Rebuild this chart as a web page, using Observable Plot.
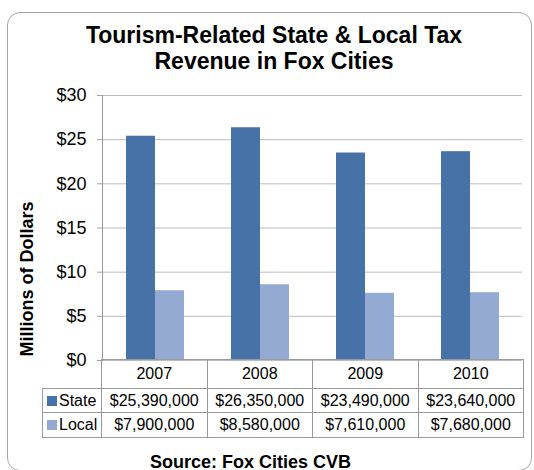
<!DOCTYPE html>
<html>
<head>
<meta charset="utf-8">
<script src="https://cdn.jsdelivr.net/npm/d3@7"></script>
<script src="https://cdn.jsdelivr.net/npm/@observablehq/plot@0.6"></script>
<style>
  html, body { margin: 0; padding: 0; background: #fff; }
  body { width: 534px; height: 470px; overflow: hidden; position: relative; font-family: "Liberation Sans", Arial, sans-serif; }
  #frame { position: absolute; left: 7px; top: 12px; width: 525px; height: 459px; box-sizing: border-box; border: 1px solid #a6a6a6; border-radius: 13px; }
  #title { position: absolute; left: 0; top: 22.9px; width: 548px; text-align: center; font-weight: bold; font-size: 23px; line-height: 25.8px; color: #000; }
  #chart { position: absolute; left: 0; top: 80px; }
  #table { position: absolute; left: 42px; top: 359px; border-collapse: collapse; font-size: 16px; color: #000; }
  #table td { border: 1px solid #9a9a9a; padding: 0; text-align: center; box-sizing: border-box; }
  #table td.blank { border: none; }
  #table td.lab { text-align: left; padding-left: 4px; white-space: nowrap; }
  #table .sw { display: inline-block; width: 10px; height: 10px; margin-right: 2px; vertical-align: 0px; }
  #source { position: absolute; left: 0; top: 451.5px; width: 501px; text-align: center; font-weight: bold; font-size: 18px; line-height: 20px; color: #000; }
</style>
</head>
<body>
<div id="frame"></div>
<div id="title">Tourism-Related State &amp; Local Tax<br>Revenue in Fox Cities</div>
<div id="chart"></div>
<table id="table"></table>
<div id="source">Source: Fox Cities CVB</div>
<script>
// ---- data ----
const years = ["2007", "2008", "2009", "2010"];
const series = ["State", "Local"];
const stateValues = [25390000, 26350000, 23490000, 23640000];
const localValues = [7900000, 8580000, 7610000, 7680000];
const seriesColors = ["#4672a8", "#95aad3"];
const yTicks = [0, 5, 10, 15, 20, 25, 30];
const yLabel = "Millions of Dollars";

const rows = [];
years.forEach((y, i) => {
  rows.push({year: y, series: "State", value: stateValues[i] / 1e6});
  rows.push({year: y, series: "Local", value: localValues[i] / 1e6});
});

const chart = Plot.plot({
  width: 534,
  height: 290,
  marginTop: 15,
  marginBottom: 10,
  marginLeft: 100,
  marginRight: 11,
  style: {fontFamily: "'Liberation Sans', Arial, sans-serif", fontSize: "18px", color: "#000", background: "transparent", overflow: "visible"},
  fx: {domain: years, padding: 0, axis: null, label: null},
  x: {domain: series, paddingInner: 0, paddingOuter: 0.758, axis: null, label: null},
  y: {domain: [0, 30], axis: null},
  color: {domain: series, range: seriesColors},
  marks: [
    Plot.gridY(yTicks, {stroke: "#bcbcbc", strokeOpacity: 1}),
    Plot.barY(rows, {fx: "year", x: "series", y: "value", fill: "series", insetLeft: 0, insetRight: 0}),
    Plot.axisY(yTicks, {tickSize: 5, tickPadding: 11, tickFormat: d => "$" + d, stroke: "#a0a0a0", fill: "#000", fontSize: 18, label: null}),
    Plot.frame({anchor: "left", facetAnchor: "left", stroke: "#9a9a9a"}),
    Plot.text([{year: years[0], t: yLabel}], {fx: "year", text: "t", frameAnchor: "bottom-left", rotate: -90, textAnchor: "start", dx: -70, dy: -4, fontWeight: "bold", fontSize: 18, fill: "#000"})
  ]
});
document.getElementById("chart").appendChild(chart);

// ---- data table ----
const table = document.getElementById("table");
const colW = 105.5;
let html = '<tr style="height:29px"><td class="blank" style="width:59px"></td>' +
  years.map(y => `<td style="width:${colW}px">${y}</td>`).join("") + "</tr>";
const fmt = v => "$" + d3.format(",")(v);
[[series[0], stateValues, seriesColors[0], 24], [series[1], localValues, seriesColors[1], 25]].forEach(([name, vals, col, h]) => {
  html += `<tr style="height:${h}px"><td class="lab"><span class="sw" style="background:${col}"></span>${name}</td>` +
    vals.map(v => `<td>${fmt(v)}</td>`).join("") + "</tr>";
});
table.innerHTML = html;
</script>
</body>
</html>
